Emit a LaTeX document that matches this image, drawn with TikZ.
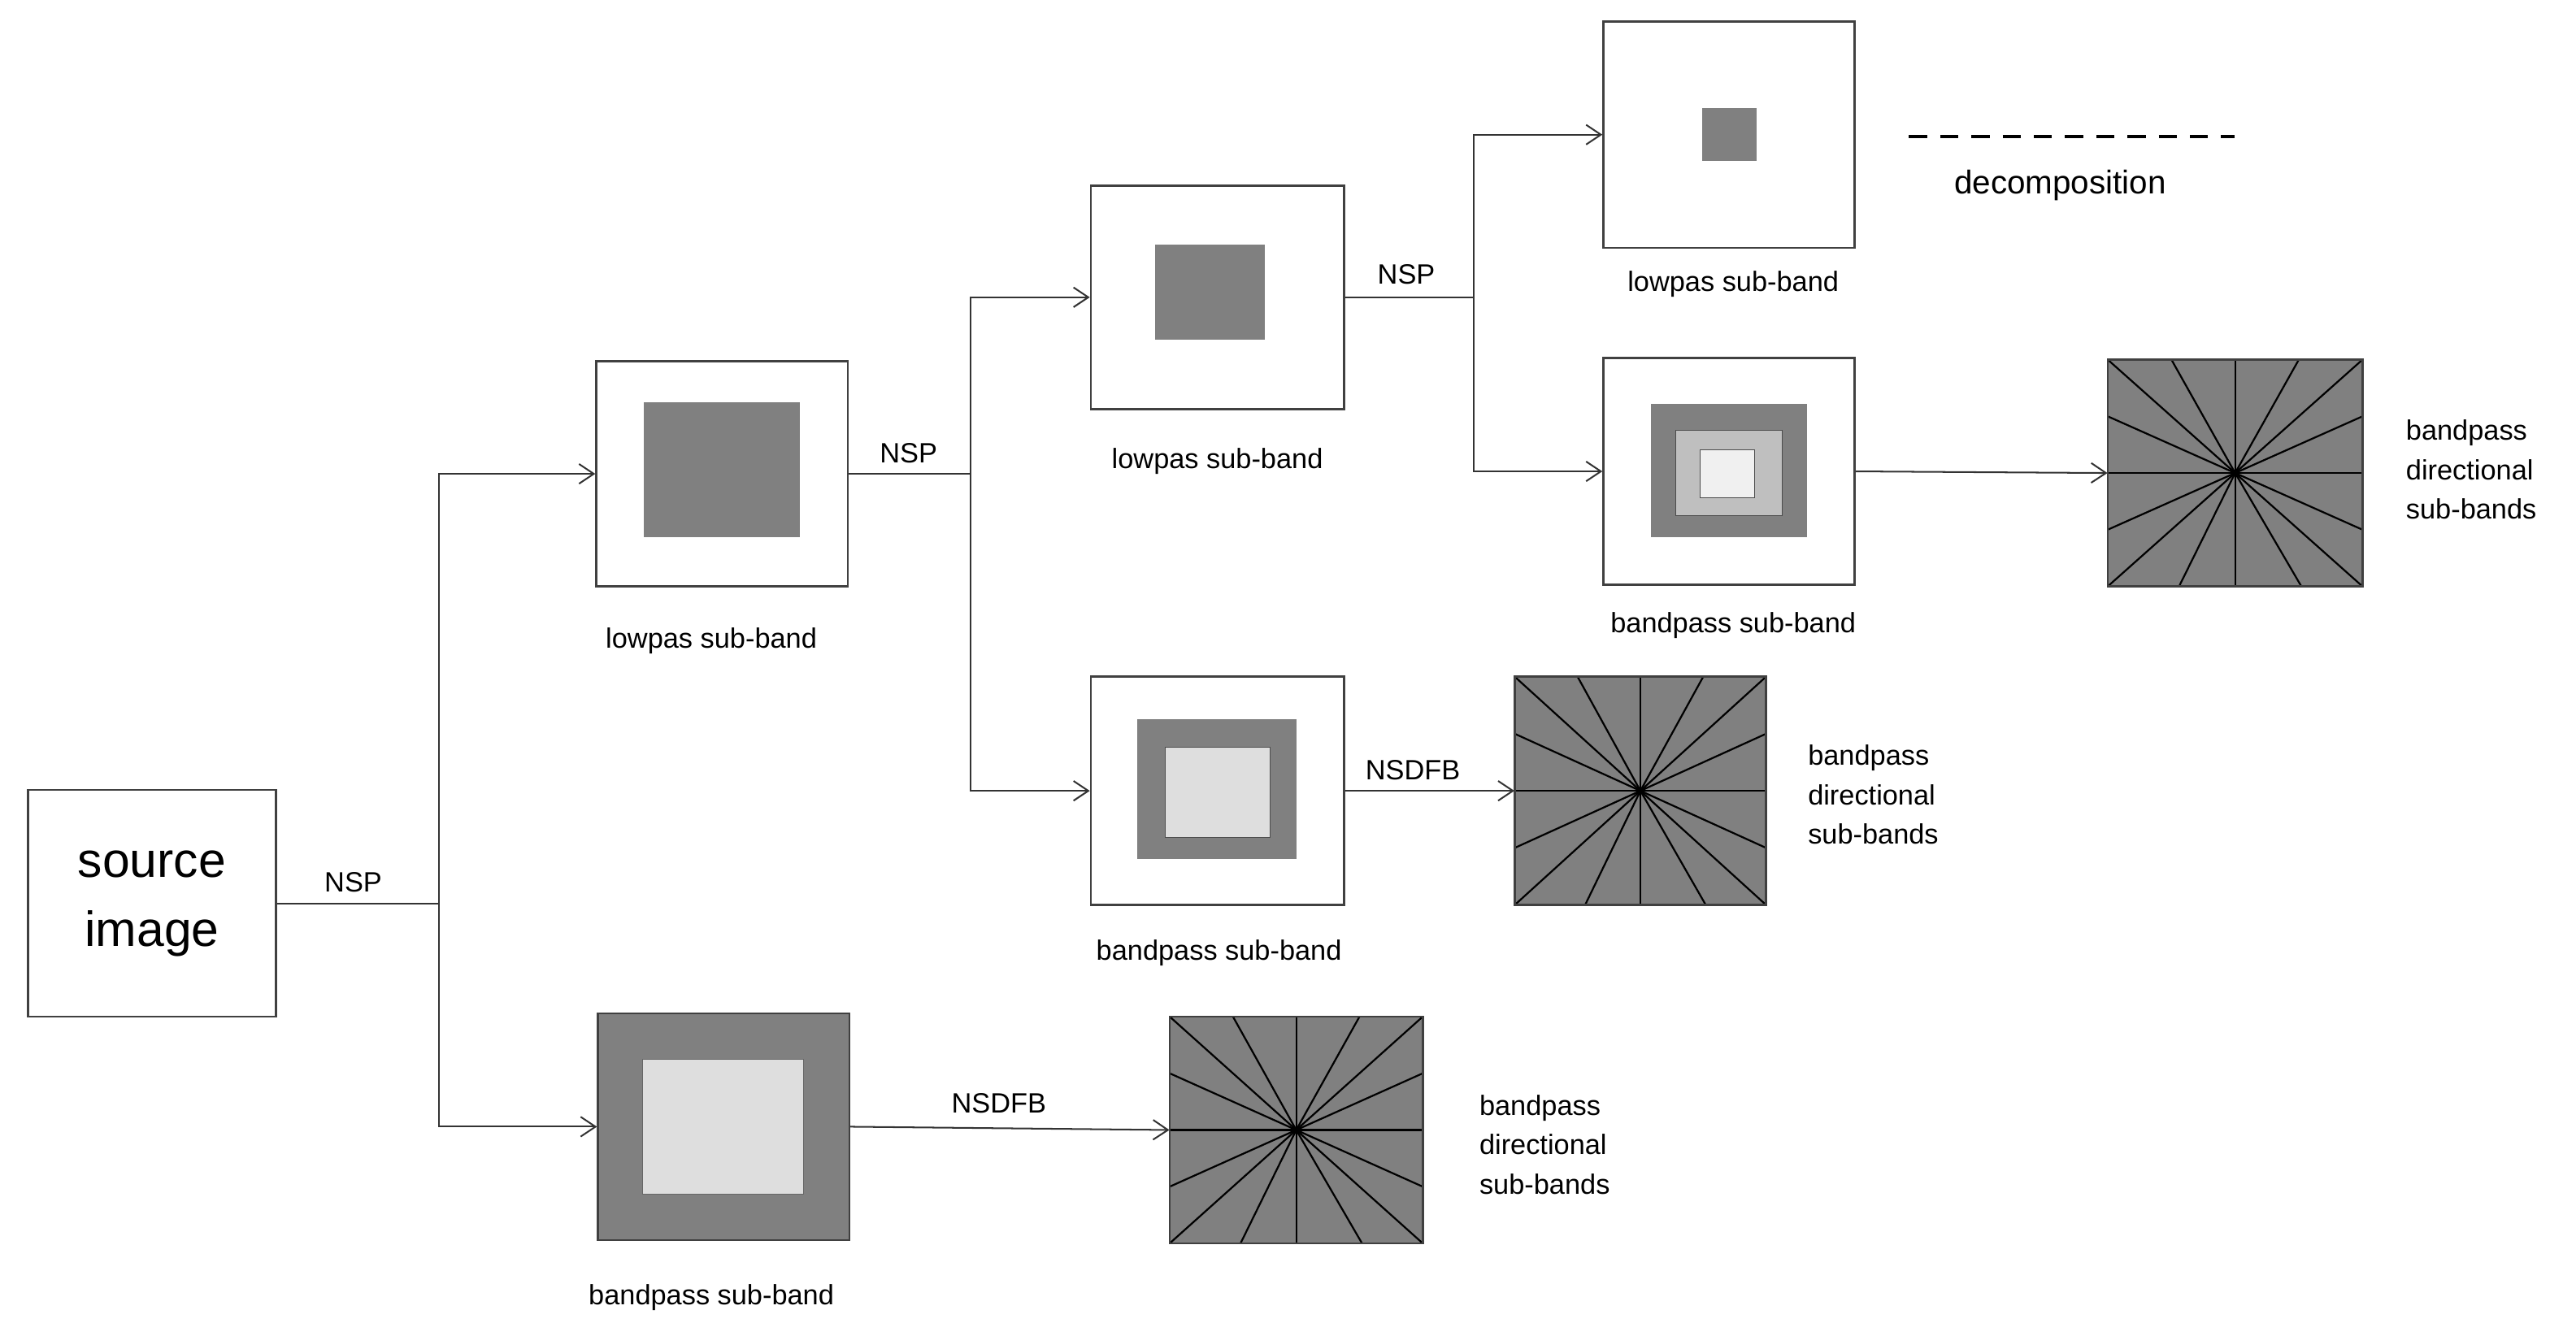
\documentclass[tikz,border=0pt]{standalone}
\usepackage{fontspec}
\setmainfont{Liberation Sans}
\usetikzlibrary{arrows.meta}
\begin{document}
\begin{tikzpicture}[x=1pt,y=-1pt,
  box/.style={draw=black!75,line width=1.3pt},
  dark/.style={fill=black!50},
  light/.style={fill=black!13},
  conn/.style={line width=1pt,black!80},
  arr/.style={conn,-{Straight Barb[length=9pt,width=12pt]}},
  lbl/.style={font=\fontsize{17}{20}\selectfont},
  dlbl/.style={font=\fontsize{17}{24}\selectfont,align=left,anchor=west}]
\useasboundingbox (0,0) rectangle (1568,813);
\fill[white] (0,0) rectangle (1568,813);
% directional filter bank picture
\newcommand{\dirbox}[5]{% name x1 y1 x2 y2
  \fill[black!50] (#2,#3) rectangle (#4,#5);
  \coordinate (#1c) at ({(#2+#4)/2},{(#3+#5)/2});
  \foreach \fx/\fy in {0/0,0.25/0,0.5/0,0.75/0,1/0,0/0.25,0/0.5,0/0.75,1/0.25,1/0.5,1/0.75,0/1,0.28/1,0.5/1,0.76/1,1/1}
    \draw[line width=1.1pt] (#1c) -- ({#2+\fx*(#4-#2)},{#3+\fy*(#5-#3)});
  \draw[line width=1.3pt,black!75] (#2,#3) rectangle (#4,#5);
  \node[inner sep=0,minimum width={#4-#2},minimum height={#5-#3}] (#1) at (#1c) {};
}
% source
\node[box,minimum width=151pt,minimum height=138pt,align=center,font=\fontsize{30}{42}\selectfont] (src) at (92.5,550) {source\\image};
% level 1
\node[box,minimum width=153pt,minimum height=137pt] (l1) at (439.5,288.5) {};
\fill[dark] (392,245) rectangle (487,327);
\node[box,dark,minimum width=153pt,minimum height=138pt] (b1) at (440.5,686) {};
\fill[light] (391,645) rectangle (489,727);
\draw[black!60] (391,645) rectangle (489,727);
% level 2
\node[box,minimum width=154pt,minimum height=136pt] (l2) at (741,181) {};
\fill[dark] (703,149) rectangle (770,207);
\node[box,minimum width=154pt,minimum height=139pt] (b2) at (741,481.5) {};
\fill[dark] (692,438) rectangle (789,523);
\fill[light] (709,455) rectangle (773,510);
\draw[black!70] (709,455) rectangle (773,510);
% level 3
\node[box,minimum width=153pt,minimum height=138pt] (l3) at (1052.5,82) {};
\fill[dark] (1036,66) rectangle (1069,98);
\node[box,minimum width=153pt,minimum height=138pt] (b3) at (1052.5,287) {};
\fill[dark] (1005,246) rectangle (1100,327);
\fill[fill=black!25,draw=black!70] (1020,262) rectangle (1085,314);
\fill[fill=black!6,draw=black!70] (1035,274) rectangle (1068,303);
% directional boxes
\dirbox{dA}{1283}{219}{1438}{357}
\dirbox{dB}{922}{412}{1075}{551}
\dirbox{dC}{712}{619}{866}{757}
% connectors
\coordinate (j1) at (267,550);
\draw[conn] (src.east |- j1) -- (j1);
\draw[arr] (j1) |- (l1.west);
\draw[arr] (j1) |- (b1.west);
\node[lbl] at (215,537) {NSP};
\coordinate (j2) at (591,288.5);
\draw[conn] (l1.east) -- (j2);
\draw[arr] (j2) |- (l2.west);
\draw[arr] (j2) |- (b2.west);
\node[lbl] at (553,276) {NSP};
\coordinate (j3) at (897,181);
\draw[conn] (l2.east) -- (j3);
\draw[arr] (j3) |- (l3.west);
\draw[arr] (j3) |- (b3.west);
\node[lbl] at (856,167) {NSP};
\draw[arr] (b3.east) -- (dA.west);
\draw[arr] (b2.east) -- (dB.west);
\node[lbl] at (860,469) {NSDFB};
\draw[arr] (b1.east) -- (dC.west);
\node[lbl] at (608,672) {NSDFB};
% labels
\node[lbl] at (433,390) {lowpas sub-band};
\node[lbl] at (741,281) {lowpas sub-band};
\node[lbl] at (1055,173) {lowpas sub-band};
\node[lbl] at (433,790) {bandpass sub-band};
\node[lbl] at (742,580) {bandpass sub-band};
\node[lbl] at (1055,381) {bandpass sub-band};
\node[dlbl] at (1461,286) {bandpass\\directional\\sub-bands};
\node[dlbl] at (1097,484) {bandpass\\directional\\sub-bands};
\node[dlbl] at (897,697) {bandpass\\directional\\sub-bands};
% legend
\coordinate (la) at (1162,83); \coordinate (lb) at (1360,83);
\draw[line width=2pt,dash pattern=on 11pt off 8pt] (la) -- (lb);
\node[font=\fontsize{20}{24}\selectfont] at (1254,113) {decomposition};
\end{tikzpicture}
\end{document}
